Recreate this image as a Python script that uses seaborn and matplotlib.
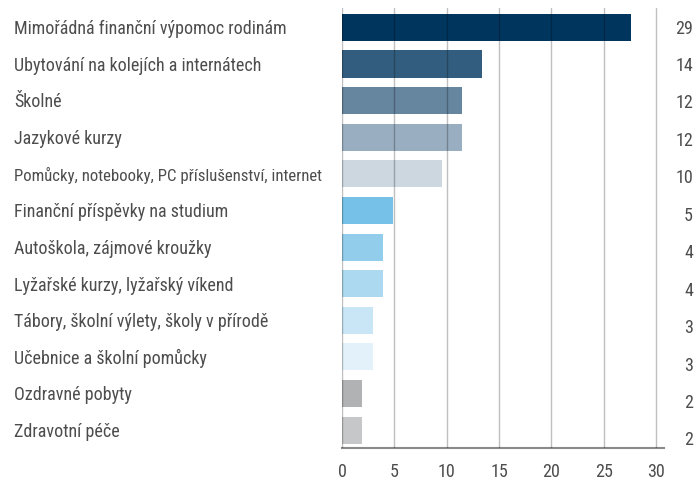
import matplotlib
matplotlib.use("Agg")
import matplotlib.pyplot as plt
import matplotlib.transforms as mtransforms
from matplotlib import font_manager
import seaborn as sns
import pandas as pd

categories = [
    "Mimořádná finanční výpomoc rodinám",
    "Ubytování na kolejích a internátech",
    "Školné",
    "Jazykové kurzy",
    "Pomůcky, notebooky, PC příslušenství, internet",
    "Finanční příspěvky na studium",
    "Autoškola, zájmové kroužky",
    "Lyžařské kurzy, lyžařský víkend",
    "Tábory, školní výlety, školy v přírodě",
    "Učebnice a školní pomůcky",
    "Ozdravné pobyty",
    "Zdravotní péče",
]
bar_values = [27.6, 13.4, 11.5, 11.5, 9.6, 4.9, 3.9, 3.9, 3.0, 3.0, 1.9, 1.9]
value_labels = ["29", "14", "12", "12", "10", "5", "4", "4", "3", "3", "2", "2"]
colors = ["#00365e", "#335d7e", "#66859f", "#99aec0", "#ccd7e0", "#76c1e8",
          "#92cdec", "#acd9f0", "#c8e6f6", "#e3f2fa", "#b1b2b3", "#c6c7c8"]
x_ticks = [0, 5, 10, 15, 20, 25, 30]

df = pd.DataFrame({"cat": categories, "val": bar_values})

sns.set_theme(style="white")
available = {f.name for f in font_manager.fontManager.ttflist}
family = [n for n in ["Roboto Condensed", "Liberation Sans Narrow", "Liberation Sans"]
          if n in available] + ["DejaVu Sans"]
plt.rcParams["font.family"] = family

fig = plt.figure(figsize=(6.95, 4.84), dpi=100)
ax = fig.add_axes([342 / 695, 1 - 447.7 / 484, (664 - 342) / 695, (447.7 - 8) / 484])

sns.barplot(data=df, y="cat", x="val", hue="cat", palette=colors, legend=False,
            orient="h", width=0.74, saturation=1, ax=ax, zorder=1)
for p in ax.patches:
    p.set_edgecolor("none")
    p.set_linewidth(0)

ax.set_xlim(0, 30.76)
ax.set_ylim(11.48, -0.53)
ax.set_xticks(x_ticks)
ax.set_xticklabels([str(t) for t in x_ticks], fontsize=13, color="#4d4d4d")
ax.tick_params(axis="x", length=0, pad=11)
ax.set_yticks([])
ax.set_xlabel("")
ax.set_ylabel("")

for t in x_ticks:
    ax.axvline(t, color="#000000", alpha=0.25, lw=1.0, zorder=3)

for s in ["top", "right", "left"]:
    ax.spines[s].set_visible(False)
ax.spines["bottom"].set_color("#8a8a8a")
ax.spines["bottom"].set_linewidth(1.5)

trans = mtransforms.blended_transform_factory(fig.transFigure, ax.transData)
renderer = fig.canvas.get_renderer()
max_w = 308
for i, c in enumerate(categories):
    t = ax.text(14 / 695, i + 0.05, c, transform=trans, ha="left", va="center",
                fontsize=13, color="#4d4d4d", clip_on=False)
    w = t.get_window_extent(renderer=renderer).width
    if w > max_w:
        t.set_fontsize(13 * max_w / w)
for i, v in enumerate(value_labels):
    ax.text(693 / 695, i * 1.023 + 0.03, v, transform=trans, ha="right", va="center",
            fontsize=13, color="#4d4d4d", clip_on=False)

fig.savefig("out.png", dpi=100)
